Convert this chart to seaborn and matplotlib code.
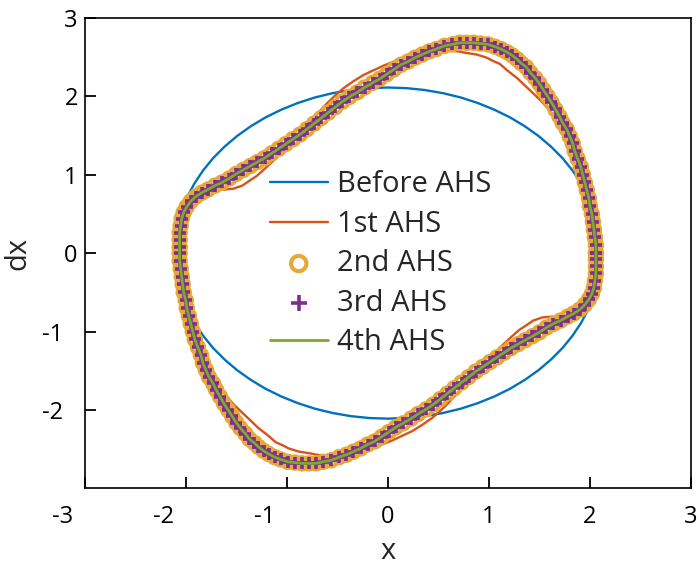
import matplotlib
matplotlib.use('Agg')
import matplotlib.pyplot as plt
import matplotlib.transforms as mtransforms
import seaborn as sns
import pandas as pd

# orbit before AHS (circle-like)
before_x = [2.110, 2.102, 2.078, 2.038, 1.983, 1.912, 1.827, 1.729, 1.616, 1.492, 1.356,
            1.210, 1.055, 0.892, 0.722, 0.546, 0.366, 0.184, 0.000, -0.184, -0.366,
            -0.546, -0.722, -0.892, -1.055, -1.210, -1.356, -1.492, -1.616, -1.729,
            -1.827, -1.912, -1.983, -2.038, -2.078, -2.102, -2.110, -2.102, -2.078,
            -2.038, -1.983, -1.912, -1.827, -1.729, -1.616, -1.492, -1.356, -1.210,
            -1.055, -0.892, -0.722, -0.546, -0.366, -0.184, 0.000, 0.184, 0.366, 0.546,
            0.722, 0.892, 1.055, 1.210, 1.356, 1.492, 1.616, 1.729, 1.827, 1.912, 1.983,
            2.038, 2.078, 2.102, 2.110]
before_dx = [0.000, 0.184, 0.366, 0.546, 0.722, 0.892, 1.055, 1.210, 1.356, 1.492, 1.616,
             1.729, 1.827, 1.912, 1.983, 2.038, 2.078, 2.102, 2.110, 2.102, 2.078, 2.038,
             1.983, 1.912, 1.827, 1.729, 1.616, 1.492, 1.356, 1.210, 1.055, 0.892, 0.722,
             0.546, 0.366, 0.184, 0.000, -0.184, -0.366, -0.546, -0.722, -0.892, -1.055,
             -1.210, -1.356, -1.492, -1.616, -1.729, -1.827, -1.912, -1.983, -2.038,
             -2.078, -2.102, -2.110, -2.102, -2.078, -2.038, -1.983, -1.912, -1.827,
             -1.729, -1.616, -1.492, -1.356, -1.210, -1.055, -0.892, -0.722, -0.546,
             -0.366, -0.184, 0.000]

# 1st AHS orbit
ahs1_x = [2.05, 2.05, 2.04, 2.03, 2.02, 1.99, 1.97, 1.94, 1.90, 1.86, 1.81, 1.76, 1.70,
          1.64, 1.54, 1.46, 1.37, 1.28, 1.18, 1.11, 1.04, 0.98, 0.88, 0.78, 0.70, 0.61,
          0.53, 0.45, 0.38, 0.30, 0.16, 0.06, -0.04, -0.14, -0.24, -0.34, -0.44, -0.52,
          -0.60, -0.68, -0.75, -0.85, -0.95, -1.05, -1.13, -1.23, -1.30, -1.36, -1.44,
          -1.53, -1.62, -1.70, -1.78, -1.86, -1.93, -1.98, -2.02, -2.04, -2.05,
          -2.05, -2.05, -2.04, -2.03, -2.02, -1.99, -1.97, -1.94, -1.90, -1.86, -1.81,
          -1.76, -1.70, -1.64, -1.54, -1.46, -1.37, -1.28, -1.18, -1.11, -1.04, -0.98,
          -0.88, -0.78, -0.70, -0.61, -0.53, -0.45, -0.38, -0.30, -0.16, -0.06, 0.04,
          0.14, 0.24, 0.34, 0.44, 0.52, 0.60, 0.68, 0.75, 0.85, 0.95, 1.05, 1.13, 1.23,
          1.30, 1.36, 1.44, 1.53, 1.62, 1.70, 1.78, 1.86, 1.93, 1.98, 2.02, 2.04, 2.05,
          2.05]
ahs1_dx = [0.00, 0.15, 0.30, 0.45, 0.60, 0.75, 0.90, 1.05, 1.20, 1.33, 1.45, 1.56, 1.66,
           1.75, 1.91, 2.01, 2.12, 2.23, 2.33, 2.41, 2.45, 2.49, 2.53, 2.55, 2.57, 2.58,
           2.59, 2.58, 2.56, 2.54, 2.48, 2.44, 2.39, 2.33, 2.27, 2.19, 2.10, 2.01, 1.91,
           1.80, 1.69, 1.56, 1.43, 1.30, 1.18, 1.06, 0.98, 0.93, 0.86, 0.82, 0.81, 0.82,
           0.82, 0.80, 0.75, 0.66, 0.54, 0.40, 0.20,
           0.00, -0.15, -0.30, -0.45, -0.60, -0.75, -0.90, -1.05, -1.20, -1.33, -1.45,
           -1.56, -1.66, -1.75, -1.91, -2.01, -2.12, -2.23, -2.33, -2.41, -2.45, -2.49,
           -2.53, -2.55, -2.57, -2.58, -2.59, -2.58, -2.56, -2.54, -2.48, -2.44, -2.39,
           -2.33, -2.27, -2.19, -2.10, -2.01, -1.91, -1.80, -1.69, -1.56, -1.43, -1.30,
           -1.18, -1.06, -0.98, -0.93, -0.86, -0.82, -0.81, -0.82, -0.82, -0.80, -0.75,
           -0.66, -0.54, -0.40, -0.20, 0.00]

# converged orbit (2nd, 3rd and 4th AHS lie on top of each other)
conv_x = [2.06, 2.06, 2.05, 2.04, 2.03, 2.02, 2.00, 1.99, 1.97, 1.95, 1.93, 1.91, 1.88,
          1.85, 1.83, 1.80, 1.77, 1.73, 1.70, 1.66, 1.62, 1.58, 1.54,
          1.50, 1.46, 1.41, 1.37, 1.32, 1.28, 1.23, 1.18, 1.12, 1.06, 0.99, 0.92, 0.85,
          0.78, 0.71, 0.64, 0.56, 0.48, 0.41, 0.34, 0.27, 0.20, 0.13, 0.06, -0.01,
          -0.08, -0.15, -0.23, -0.30, -0.38, -0.45, -0.52, -0.59, -0.66, -0.73, -0.80,
          -0.87, -0.94, -1.01, -1.08, -1.15, -1.22, -1.29, -1.36, -1.43, -1.50, -1.57,
          -1.64, -1.71, -1.78, -1.84,
          -1.90, -1.95, -1.99, -2.02, -2.04, -2.05, -2.06, -2.06, -2.06,
          -2.06, -2.06, -2.05, -2.04, -2.03, -2.02, -2.00, -1.99, -1.97, -1.95, -1.93,
          -1.91, -1.88, -1.85, -1.83, -1.80, -1.77, -1.73, -1.70, -1.66, -1.62, -1.58,
          -1.54,
          -1.50, -1.46, -1.41, -1.37, -1.32, -1.28, -1.23, -1.18, -1.12, -1.06, -0.99,
          -0.92, -0.85, -0.78, -0.71, -0.64, -0.56, -0.48, -0.41, -0.34, -0.27, -0.20,
          -0.13, -0.06, 0.01,
          0.08, 0.15, 0.23, 0.30, 0.38, 0.45, 0.52, 0.59, 0.66, 0.73, 0.80, 0.87, 0.94,
          1.01, 1.08, 1.15, 1.22, 1.29, 1.36, 1.43, 1.50, 1.57, 1.64, 1.71, 1.78, 1.84,
          1.90, 1.95, 1.99, 2.02, 2.04, 2.05, 2.06, 2.06, 2.06, 2.06]
conv_dx = [0.00, 0.10, 0.20, 0.30, 0.40, 0.50, 0.60, 0.70, 0.80, 0.90, 1.00, 1.10, 1.20,
           1.30, 1.40, 1.49, 1.58, 1.66, 1.74, 1.83, 1.92, 2.00, 2.08,
           2.16, 2.23, 2.30, 2.37, 2.42, 2.47, 2.52, 2.56, 2.60, 2.63, 2.66, 2.67, 2.68,
           2.68, 2.68, 2.66, 2.64, 2.60, 2.57, 2.53, 2.49, 2.44, 2.40, 2.34, 2.28,
           2.22, 2.17, 2.11, 2.05, 1.99, 1.93, 1.86, 1.79, 1.72, 1.65, 1.58, 1.51, 1.45,
           1.39, 1.33, 1.27, 1.21, 1.16, 1.11, 1.06, 1.01, 0.95, 0.90, 0.86, 0.81, 0.77,
           0.72, 0.66, 0.59, 0.52, 0.44, 0.35, 0.26, 0.17, 0.08,
           0.00, -0.10, -0.20, -0.30, -0.40, -0.50, -0.60, -0.70, -0.80, -0.90, -1.00,
           -1.10, -1.20, -1.30, -1.40, -1.49, -1.58, -1.66, -1.74, -1.83, -1.92, -2.00,
           -2.08,
           -2.16, -2.23, -2.30, -2.37, -2.42, -2.47, -2.52, -2.56, -2.60, -2.63, -2.66,
           -2.67, -2.68, -2.68, -2.68, -2.66, -2.64, -2.60, -2.57, -2.53, -2.49, -2.44,
           -2.40, -2.34, -2.28,
           -2.22, -2.17, -2.11, -2.05, -1.99, -1.93, -1.86, -1.79, -1.72, -1.65, -1.58,
           -1.51, -1.45, -1.39, -1.33, -1.27, -1.21, -1.16, -1.11, -1.06, -1.01, -0.95,
           -0.90, -0.86, -0.81, -0.77,
           -0.72, -0.66, -0.59, -0.52, -0.44, -0.35, -0.26, -0.17, -0.08, 0.00]

labels = ['Before AHS', '1st AHS', '2nd AHS', '3rd AHS', '4th AHS']
colors = ['#0072BD', '#D95319', '#E6A838', '#7E2F8E', '#77AC30']
xtick_vals = [-3, -2, -1, 0, 1, 2, 3]
ytick_vals = [-2, -1, 0, 1, 2, 3]

before = pd.DataFrame({'x': before_x, 'dx': before_dx})
ahs1 = pd.DataFrame({'x': ahs1_x, 'dx': ahs1_dx})
conv = pd.DataFrame({'x': conv_x, 'dx': conv_dx})

sns.set_style("ticks")
plt.rcParams['font.family'] = ['Open Sans', 'DejaVu Sans']

fig, ax = plt.subplots(figsize=(7, 5.7), dpi=100)
fig.subplots_adjust(left=0.121, right=0.987, bottom=0.143, top=0.969)

sns.lineplot(data=before, x='x', y='dx', sort=False, estimator=None,
             color=colors[0], linewidth=1.7, label=labels[0], ax=ax)
sns.lineplot(data=ahs1, x='x', y='dx', sort=False, estimator=None,
             color=colors[1], linewidth=1.7, label=labels[1], ax=ax)
sns.scatterplot(data=conv, x='x', y='dx', marker='o', s=78,
                facecolor='none', edgecolor=colors[2], linewidth=3.0,
                label=labels[2], ax=ax, zorder=3)
sns.scatterplot(data=conv, x='x', y='dx', marker='+', s=85,
                color=colors[3], linewidth=2.6, label=labels[3], ax=ax, zorder=4)
sns.lineplot(data=conv, x='x', y='dx', sort=False, estimator=None,
             color=colors[4], linewidth=2.0, label=labels[4], ax=ax, zorder=5)

ax.set_xlim(-3, 3)
ax.set_ylim(-3, 3)
ax.set_xticks(xtick_vals)
ax.set_yticks(ytick_vals)
ax.set_xticklabels([str(v) for v in xtick_vals])
ax.set_yticklabels([str(v) for v in ytick_vals])
ax.tick_params(direction='in', length=8, width=1.3, labelsize=17,
               top=False, right=False, colors='black')
ax.tick_params(axis='x', pad=12)
ax.tick_params(axis='y', pad=5)
for sp in ax.spines.values():
    sp.set_linewidth(1.2)
    sp.set_color('black')
ax.set_xlabel('x', fontsize=21, labelpad=6)
ax.set_ylabel('dx', fontsize=21)
ax.yaxis.set_label_coords(-0.087, 0.5)

# MATLAB-style placement: negative labels sit further left
fig.canvas.draw()
for lab in ax.get_xticklabels():
    if lab.get_text().startswith('-'):
        lab.set_transform(lab.get_transform() +
                          mtransforms.ScaledTranslation(-0.22, 0, fig.dpi_scale_trans))
for lab in ax.get_yticklabels():
    if lab.get_text().startswith('-'):
        lab.set_transform(lab.get_transform() +
                          mtransforms.ScaledTranslation(-0.15, 0, fig.dpi_scale_trans))

leg = ax.legend(loc='upper left', bbox_to_anchor=(0.305, 0.676), frameon=False,
                fontsize=21, handlelength=2.0, handletextpad=0.3,
                labelspacing=0.36, borderpad=0, borderaxespad=0, markerscale=1.25)

plt.savefig('out.png', dpi=100)
plt.close()
